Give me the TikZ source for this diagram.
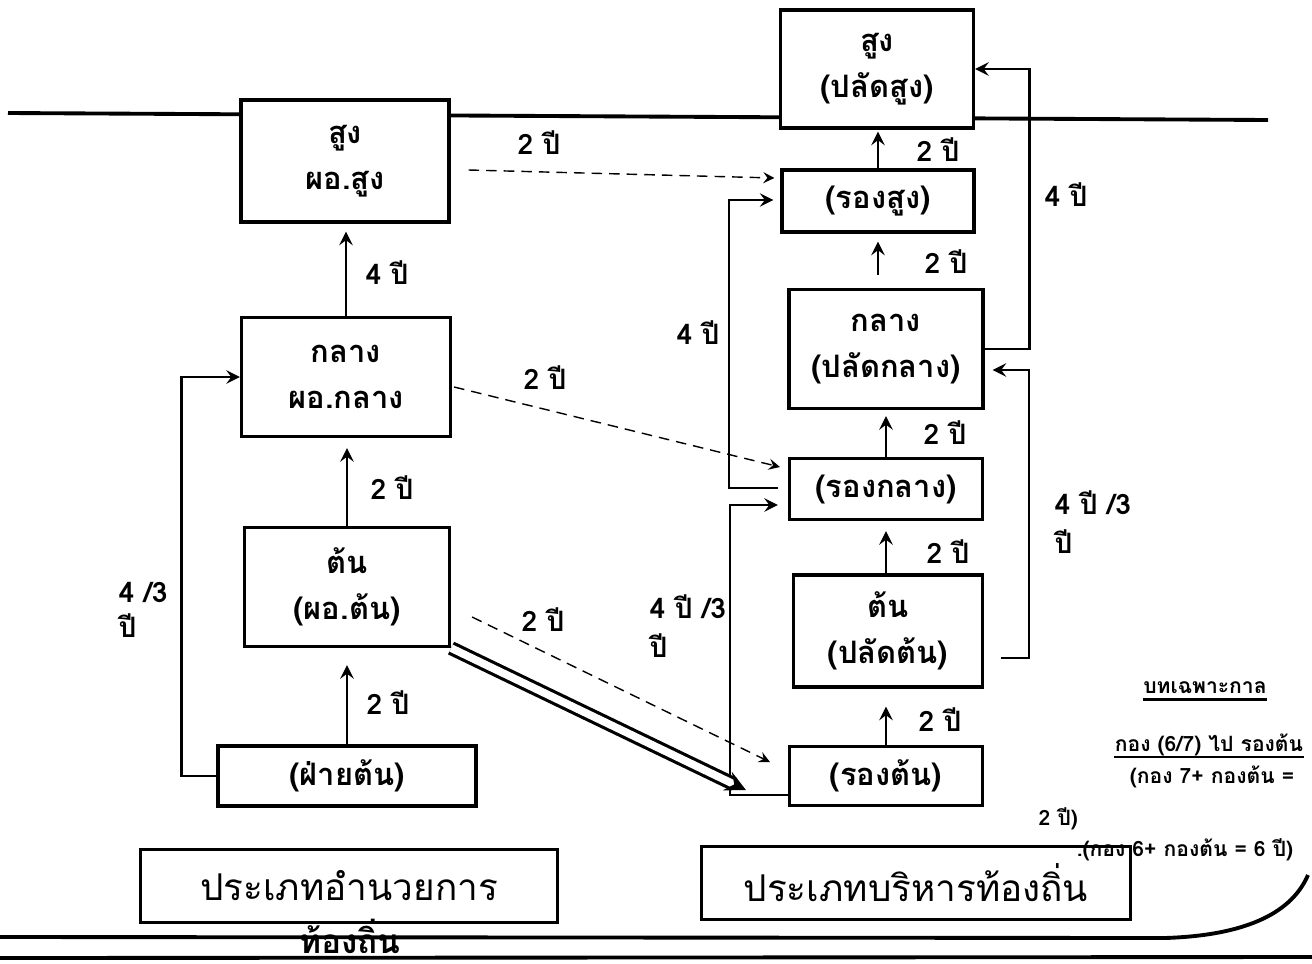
\documentclass[tikz,border=0pt]{standalone}
\usepackage{fontspec}
\newfontfamily\thaifont[Script=Thai]{Loma}
\usetikzlibrary{arrows, calc}

\begin{document}
\begin{tikzpicture}[
    x=0.1mm, y=-0.1mm,
    rankbox/.style={rectangle, draw, line width=0.9pt, fill=white, align=center, inner sep=0pt, font=\thaifont\bfseries\fontsize{8.8}{13}\selectfont},
    typebox/.style={rectangle, draw, line width=0.9pt, fill=white, inner sep=0pt, font=\thaifont\fontsize{10.5}{12}\selectfont},
    yearlabel/.style={font=\thaifont\bfseries\fontsize{8}{11}\selectfont, align=left, inner sep=0pt},
    notetext/.style={font=\thaifont\bfseries\fontsize{6}{7}\selectfont, inner sep=0pt},
    arrow/.style={->, line width=0.7pt, >=stealth},
    crossarrow/.style={->, thin, densely dashed, >=stealth},
    border/.style={line width=1.1pt}
]
    \useasboundingbox (0,0) rectangle (1312,963);

    % Top rule
    \draw[border] (8,113) -- (1268,120);

    % Director track (left)
    \node[rankbox, minimum width=20.8mm, minimum height=12.2mm] (psung) at (345,161) {สูง\\ผอ.สูง};
    \node[rankbox, minimum width=20.9mm, minimum height=11.9mm] (pklang) at (346,377) {กลาง\\ผอ.กลาง};
    \node[rankbox, minimum width=20.5mm, minimum height=11.9mm] (pton) at (347,587) {ต้น\\(ผอ.ต้น)};
    \node[rankbox, minimum width=25.8mm, minimum height=6mm] (fai) at (347,776) {(ฝ่ายต้น)};
    \node[typebox, minimum width=41.7mm, minimum height=7.3mm] (typeA) at (349,886) {ประเภทอำนวยการ};

    % Executive track (right)
    \node[rankbox, minimum width=19.3mm, minimum height=11.8mm] (bsung) at (877,69) {สูง\\(ปลัดสูง)};
    \node[rankbox, minimum width=19.2mm, minimum height=6.2mm] (rsung) at (878,201) {(รองสูง)};
    \node[rankbox, minimum width=19.4mm, minimum height=11.9mm] (bklang) at (886,349) {กลาง\\(ปลัดกลาง)};
    \node[rankbox, minimum width=19.3mm, minimum height=6.1mm] (rklang) at (886,489) {(รองกลาง)};
    \node[rankbox, minimum width=18.9mm, minimum height=11.2mm] (bton) at (888,631) {ต้น\\(ปลัดต้น)};
    \node[rankbox, minimum width=19.3mm, minimum height=5.9mm] (rton) at (886,776) {(รองต้น)};
    \node[typebox, minimum width=42.9mm, minimum height=7.3mm] (typeB) at (916,883) {ประเภทบริหารท้องถิ่น};

    % Steps up, left
    \draw[arrow, shorten >=0.8mm] (pklang.north) -- (pklang.north |- psung.south);
    \draw[arrow, shorten >=1mm] (pton.north) -- (pton.north |- pklang.south);
    \draw[arrow, shorten >=1.7mm] (fai.north) -- (fai.north |- pton.south);
    \draw[arrow] (fai.west) -- ++(-35,0) |- (pklang.west);

    % Steps up, right
    \draw[arrow, shorten >=0.2mm] (rsung.north) -- (rsung.north |- bsung.south);
    \draw[arrow, shorten <=1.3mm, shorten >=0.8mm] (rsung.south |- bklang.north) -- (rsung.south);
    \draw[arrow, shorten >=0.6mm] (rklang.north) -- (rklang.north |- bklang.south);
    \draw[arrow, shorten >=1mm] (rklang.south |- bton.north) -- (rklang.south);
    \draw[arrow, shorten >=1.8mm] (rton.north) -- (rton.north |- bton.south);
    \draw[arrow] (bklang.east) -- ++(45,0) |- (bsung.east);
    \draw[arrow] ($(bton.east)+(17,27)$) -- ++(28,0) |- ($(bklang.east)+(8,21)$);
    \draw[arrow] ($(rklang.west)+(-10,-1)$) -- ++(-49,0) |- ($(rsung.west)+(-7,-1)$);
    \draw[arrow] ($(rton.west)+(0,19)$) -- ++(-58,0) |- ($(rklang.west)+(-10,16)$);

    % Crossings between tracks
    \draw[crossarrow] ($(psung.east)+(18,9)$) -- ($(rsung.west)+(-6,-23)$);
    \draw[crossarrow] ($(pklang.east)+(2,10)$) -- ($(rklang.west)+(-8,-22)$);
    \draw[crossarrow] ($(pton.east)+(21,30)$) -- ($(rton.west)+(-18,-14)$);
    \draw[arrow, line width=0.9pt, double, double distance=2.2pt] (pton.south east) -- ($(rton.west)+(-42,14)$);

    % Year labels
    \node[yearlabel] (yr1) at (539,143) {2 ปี};
    \node[yearlabel] (yr2) at (387,273) {4 ปี};
    \node[yearlabel] (yr3) at (392,488) {2 ปี};
    \node[yearlabel] (yr4) at (545,378) {2 ปี};
    \node[yearlabel, anchor=west] (yr5) at (118,610) {4 /3\\[-1pt]ปี};
    \node[yearlabel] (yr6) at (388,703) {2 ปี};
    \node[yearlabel] (yr7) at (543,620) {2 ปี};
    \node[yearlabel] (yr8) at (938,150) {2 ปี};
    \node[yearlabel] (yr9) at (1066,195) {4 ปี};
    \node[yearlabel] (yr10) at (946,262) {2 ปี};
    \node[yearlabel] (yr11) at (698,333) {4 ปี};
    \node[yearlabel] (yr12) at (945,433) {2 ปี};
    \node[yearlabel, anchor=west] (yr13) at (1054,522) {4 ปี /3\\ปี};
    \node[yearlabel] (yr14) at (948,552) {2 ปี};
    \node[yearlabel, anchor=west] (yr15) at (649,626) {4 ปี /3\\ปี};
    \node[yearlabel] (yr16) at (940,720) {2 ปี};

    % Transitional note
    \node[notetext] (note1) at (1205,688) {บทเฉพาะกาล};
    \node[notetext] (note2) at (1209,745) {กอง (6/7) ไป รองต้น};
    \draw[line width=0.6pt] ([yshift=-1.6pt]note1.base west) -- ([yshift=-1.6pt]note1.base east);
    \draw[line width=0.6pt] ([yshift=-1.6pt]note2.base west) -- ([yshift=-1.6pt]note2.base east);
    \node[notetext] (note3) at (1212,777) {(กอง 7+ กองต้น =};
    \node[notetext, anchor=west] (note4) at (1038,819) {2 ปี)};
    \node[notetext] (note5) at (1185,850) {.(กอง 6+ กองต้น = 6 ปี)};

    % Bottom rules
    \draw[border] (0,937) -- (1165,938) .. controls (1260,935) and (1295,905) .. (1308,875);
    \draw[border] (0,958) -- (1312,957);
    \node[font=\thaifont\bfseries\fontsize{9.5}{11}\selectfont, inner sep=0pt] (local) at (350,936) {ท้องถิ่น};
\end{tikzpicture}
\end{document}
